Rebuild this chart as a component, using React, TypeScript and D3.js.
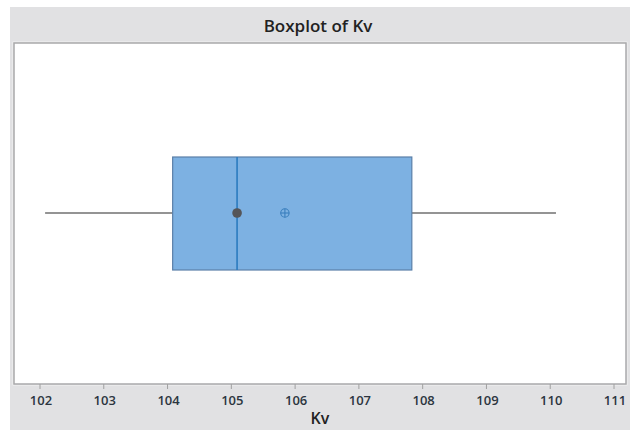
import React from "react";
import * as d3 from "d3";

const title = "Boxplot of Kv";
const axisLabel = "Kv";
const tickValues = [102, 103, 104, 105, 106, 107, 108, 109, 110, 111];
const whiskerLow = [102.08];
const whiskerHigh = [110.09];
const quartiles = [104.08, 105.09, 107.83]; // Q1, median, Q3
const meanValue = [105.84];

export default function App() {
  const W = 630, H = 430;
  const plot = { left: 14, right: 626, top: 43, bottom: 384 };
  const x = d3.scaleLinear().domain([102, 111]).range([40, 614]);
  const cy = 213;
  const boxTop = 157, boxBottom = 270;
  const [q1, med, q3] = quartiles;
  const font = "'Open Sans', 'Noto Sans', sans-serif";

  return (
    <svg width={W} height={H} style={{ position: "absolute", left: 0, top: 0, display: "block" }}>
      <rect x={0} y={0} width={W} height={H} fill="#ffffff" />
      <rect x={10} y={7} width={W - 10} height={H - 7} fill="#e1e1e3" />
      <text x={318} y={32} textAnchor="middle" fontFamily={font} fontWeight={600} fontSize={17} fill="#222">
        {title}
      </text>
      <rect x={plot.left - 1} y={plot.top - 1} width={plot.right - plot.left + 2} height={plot.bottom - plot.top + 2} fill="none" stroke="#f4f4f4" strokeWidth={1} />
      <rect x={plot.left} y={plot.top} width={plot.right - plot.left} height={plot.bottom - plot.top} fill="#ffffff" stroke="#a9a9ab" strokeWidth={1.5} />
      {/* whiskers */}
      <line x1={x(whiskerLow[0])} x2={x(q1)} y1={cy} y2={cy} stroke="#707070" strokeWidth={1.5} />
      <line x1={x(q3)} x2={x(whiskerHigh[0])} y1={cy} y2={cy} stroke="#707070" strokeWidth={1.5} />
      {/* box */}
      <rect x={x(q1)} y={boxTop} width={x(q3) - x(q1)} height={boxBottom - boxTop} fill="#7db1e2" stroke="#5a7fa8" strokeWidth={1.2} />
      <line x1={x(med)} x2={x(med)} y1={boxTop} y2={boxBottom} stroke="#2b7bbf" strokeWidth={1.6} />
      <circle cx={x(med)} cy={cy} r={4.8} fill="#555558" />
      {/* mean symbol */}
      <circle cx={x(meanValue[0])} cy={cy} r={4.2} fill="none" stroke="#3a7fbd" strokeWidth={1.1} />
      <line x1={x(meanValue[0]) - 4.2} x2={x(meanValue[0]) + 4.2} y1={cy} y2={cy} stroke="#3a7fbd" strokeWidth={1.1} />
      <line x1={x(meanValue[0])} x2={x(meanValue[0])} y1={cy - 4.2} y2={cy + 4.2} stroke="#3a7fbd" strokeWidth={1.1} />
      {/* ticks */}
      {tickValues.map((t) => (
        <g key={t}>
          <line x1={x(t)} x2={x(t)} y1={plot.bottom} y2={plot.bottom + 5} stroke="#a0a0a0" strokeWidth={1} />
          <text x={x(t) + 1} y={plot.bottom + 21} textAnchor="middle" fontFamily={font} fontWeight={600} fontSize={13} fill="#2c3540">
            {t}
          </text>
        </g>
      ))}
      <text x={320} y={424} textAnchor="middle" fontFamily={font} fontWeight={600} fontSize={16} fill="#222">
        {axisLabel}
      </text>
    </svg>
  );
}
